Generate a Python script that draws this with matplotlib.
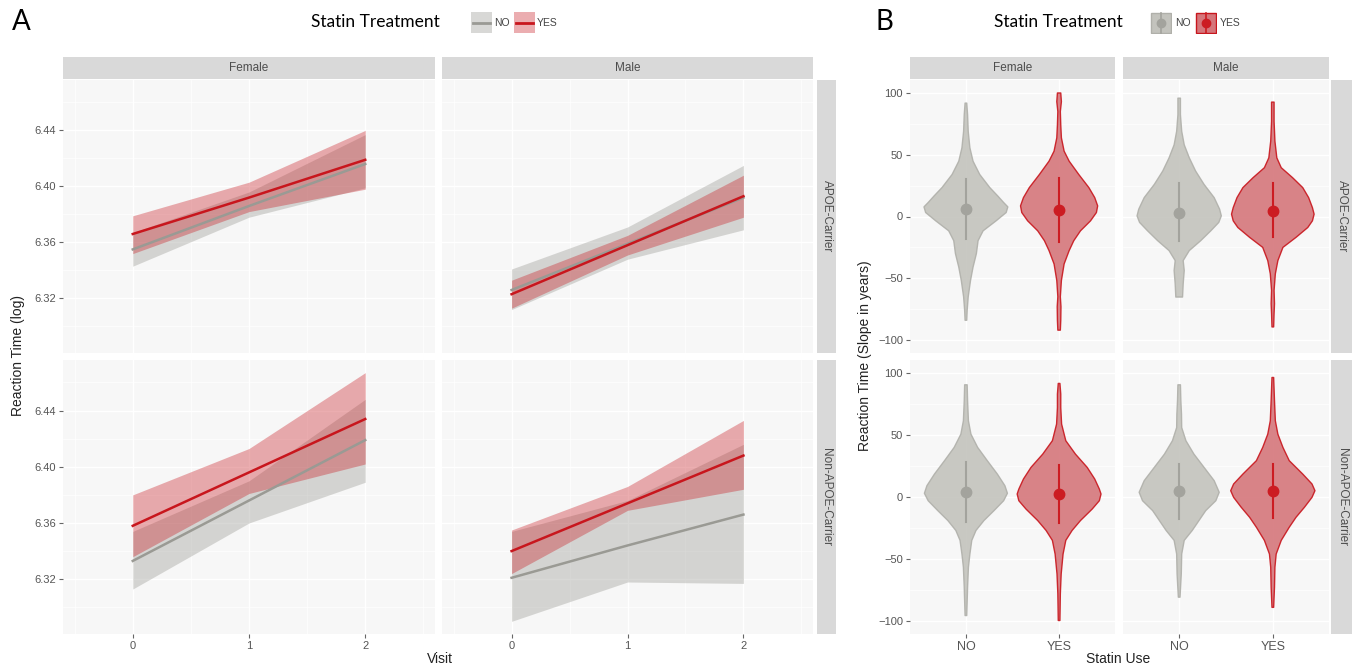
import matplotlib.pyplot as plt
import numpy as np

W, H = 1354, 668

visits = [0, 1, 2]
sexes = ["Female", "Male"]
carriers = ["APOE-Carrier", "Non-APOE-Carrier"]
groups = ["NO", "YES"]

# panel A, order: (APOE, Female), (APOE, Male), (Non-APOE, Female), (Non-APOE, Male)
no_fit = [[6.355, 6.386, 6.416], [6.326, 6.359, 6.392], [6.333, 6.376, 6.419], [6.321, 6.344, 6.366]]
no_lo = [[6.343, 6.378, 6.399], [6.312, 6.348, 6.369], [6.313, 6.360, 6.389], [6.290, 6.318, 6.317]]
no_hi = [[6.367, 6.396, 6.437], [6.341, 6.371, 6.415], [6.354, 6.390, 6.448], [6.354, 6.376, 6.416]]
yes_fit = [[6.366, 6.392, 6.419], [6.323, 6.358, 6.393], [6.358, 6.396, 6.434], [6.340, 6.374, 6.408]]
yes_lo = [[6.352, 6.382, 6.398], [6.313, 6.351, 6.378], [6.336, 6.381, 6.402], [6.324, 6.369, 6.384]]
yes_hi = [[6.379, 6.403, 6.440], [6.333, 6.365, 6.408], [6.380, 6.413, 6.467], [6.355, 6.386, 6.433]]

# panel B violins (slope value, relative half width), order:
# (APOE, Female, NO), (APOE, Female, YES), (APOE, Male, NO), (APOE, Male, YES), then the same for Non-APOE
violin_y = [
    [91.8, 82.4, 69, 55.6, 44.8, 34, 23.4, 16.6, 11.3, 7.8, 3.2, -3.5, -11.6, -19.6, -30, -41, -51.8, -65, -76, -84],
    [100, 93, 85, 74, 63.7, 52.9, 44.8, 34, 23.4, 15.3, 8.6, 3.2, -3.5, -11.6, -19.6, -27.6, -38.4, -51.8, -65, -73, -84, -92],
    [95.8, 82.4, 69, 58, 47.5, 36.8, 26, 15.3, 5.9, 0.5, -4.8, -11.6, -19.6, -27.6, -35.7, -43.7, -54.5, -65.2],
    [92.6, 77, 61, 47.5, 39.5, 31.4, 23.4, 15.3, 7.2, 1.9, -3.5, -8.9, -16.9, -25, -35.7, -46.4, -59.8, -70.6, -78.6, -89.4],
    [90.5, 77.6, 61.5, 50.7, 40, 29.3, 18.5, 9.1, 3, -3, -11, -19, -27, -35, -46, -56.7, -72.8, -95.6],
    [91.6, 83, 72, 58.8, 45.4, 34.6, 23.9, 14.5, 6.4, 2.4, -3, -9.7, -19, -27, -35, -46, -62, -78, -99.6],
    [90.5, 77.6, 66.9, 56, 45.4, 34.6, 23.9, 13.2, 3.8, -3, -11, -19, -27, -35, -46, -62, -80.8],
    [96.4, 77.6, 61.5, 50.7, 40, 29.3, 18.5, 10.5, 5.1, -0.3, -8.3, -16.4, -24.4, -35, -46, -56.7, -72.8, -89],
]
violin_w = [
    [0.02, 0.04, 0.055, 0.095, 0.17, 0.33, 0.57, 0.76, 0.9, 1.0, 0.96, 0.72, 0.41, 0.29, 0.25, 0.17, 0.11, 0.055, 0.03, 0.02],
    [0.04, 0.055, 0.03, 0.04, 0.055, 0.12, 0.24, 0.47, 0.71, 0.85, 0.92, 0.89, 0.75, 0.51, 0.35, 0.24, 0.12, 0.055, 0.03, 0.045, 0.04, 0.03],
    [0.03, 0.03, 0.06, 0.12, 0.24, 0.39, 0.59, 0.83, 0.96, 1.0, 0.94, 0.75, 0.51, 0.24, 0.095, 0.12, 0.095, 0.08],
    [0.03, 0.03, 0.05, 0.095, 0.2, 0.47, 0.71, 0.85, 0.94, 0.98, 0.94, 0.83, 0.55, 0.24, 0.12, 0.06, 0.03, 0.04, 0.03, 0.02],
    [0.03, 0.04, 0.06, 0.12, 0.28, 0.51, 0.75, 0.93, 0.99, 0.9, 0.67, 0.43, 0.24, 0.14, 0.095, 0.06, 0.04, 0.02],
    [0.02, 0.04, 0.04, 0.06, 0.16, 0.39, 0.67, 0.85, 0.96, 1.0, 0.96, 0.79, 0.51, 0.31, 0.16, 0.095, 0.05, 0.03, 0.02],
    [0.03, 0.04, 0.055, 0.06, 0.16, 0.35, 0.59, 0.83, 0.95, 0.87, 0.63, 0.47, 0.31, 0.12, 0.06, 0.05, 0.02],
    [0.02, 0.04, 0.06, 0.12, 0.24, 0.39, 0.71, 0.93, 1.0, 0.93, 0.75, 0.55, 0.39, 0.2, 0.08, 0.05, 0.04, 0.02],
]
point_mean = [5.9, 5.4, 3.2, 4.6, 3.8, 2.4, 4.6, 5.1]
point_lo = [-18.3, -20.9, -20, -16.9, -20.4, -21.2, -17.7, -16.9]
point_hi = [30.6, 30.9, 27.1, 27.1, 27.9, 26, 26.6, 26.6]

GREY_LINE = "#9a9a94"
RED_LINE = "#c8161d"
GREY_VIOLIN = "#c3c3bd"
RED_VIOLIN = "#d5767b"
PANEL_BG = "#f7f7f7"
STRIP_BG = "#d9d9d9"
TXT = "#555555"

plt.rcParams["font.family"] = ["Liberation Sans", "DejaVu Sans"]

fig = plt.figure(figsize=(W / 100, H / 100), dpi=100)


def px_axes(x0, y0, x1, y1):
    return fig.add_axes([x0 / W, 1 - y1 / H, (x1 - x0) / W, (y1 - y0) / H])


def strip(x0, y0, x1, y1, label, rot=0):
    ax = px_axes(x0, y0, x1, y1)
    ax.set_facecolor(STRIP_BG)
    ax.set_xticks([])
    ax.set_yticks([])
    for s in ax.spines.values():
        s.set_visible(False)
    ax.text(0.5, 0.5, label, rotation=rot, ha="center", va="center",
            fontsize=8.5, color="#4d4d4d", transform=ax.transAxes)


def style_panel(ax, left, bottom):
    ax.set_facecolor(PANEL_BG)
    for s in ax.spines.values():
        s.set_visible(False)
    ax.grid(True, which="major", color="white", lw=1.0)
    ax.grid(True, which="minor", color="white", lw=0.5)
    ax.set_axisbelow(True)
    ax.tick_params(which="major", length=3, color="#666666", labelcolor=TXT, labelsize=8, pad=2)
    ax.tick_params(which="minor", length=0)
    if not left:
        ax.tick_params(axis="y", which="both", length=0, labelleft=False)
    if not bottom:
        ax.tick_params(axis="x", which="both", length=0, labelbottom=False)


rows = [(80, 353), (360, 634)]

# ---------------- panel A ----------------
cols_a = [(63, 435), (442, 813)]
for j, sex in enumerate(sexes):
    strip(cols_a[j][0], 57, cols_a[j][1], 79, sex)
for i, car in enumerate(carriers):
    strip(817, rows[i][0], 836, rows[i][1], car, rot=-90)
    for j in range(2):
        k = i * 2 + j
        ax = px_axes(cols_a[j][0], rows[i][0], cols_a[j][1], rows[i][1])
        ax.fill_between(visits, no_lo[k], no_hi[k], color=GREY_LINE, alpha=0.38, lw=0)
        ax.plot(visits, no_fit[k], color=GREY_LINE, lw=1.8)
        ax.fill_between(visits, yes_lo[k], yes_hi[k], color=RED_LINE, alpha=0.35, lw=0)
        ax.plot(visits, yes_fit[k], color=RED_LINE, lw=1.8)
        ax.set_xlim(-0.6, 2.6)
        ax.set_ylim(6.281, 6.476)
        ax.set_xticks([0, 1, 2])
        ax.set_xticks([-0.5, 0.5, 1.5, 2.5], minor=True)
        ax.set_yticks([6.32, 6.36, 6.40, 6.44])
        ax.set_yticklabels(["6.32", "6.36", "6.40", "6.44"])
        ax.set_yticks([6.30, 6.34, 6.38, 6.42, 6.46], minor=True)
        style_panel(ax, j == 0, i == 1)

fig.text(18 / W, 1 - 356 / H, "Reaction Time (log)", rotation=90, ha="center", va="center",
         fontsize=10, color="#222222")
fig.text(440 / W, 1 - 659 / H, "Visit", ha="center", va="center", fontsize=10, color="#222222")

# ---------------- panel B ----------------
cols_b = [(910, 1115), (1123, 1329)]
for j, sex in enumerate(sexes):
    strip(cols_b[j][0], 57, cols_b[j][1], 79, sex)
for i, car in enumerate(carriers):
    strip(1331, rows[i][0], 1352, rows[i][1], car, rot=-90)
    for j in range(2):
        ax = px_axes(cols_b[j][0], rows[i][0], cols_b[j][1], rows[i][1])
        for g, grp in enumerate(groups):
            k = i * 4 + j * 2 + g
            xc = g + 1
            yv = np.array(violin_y[k])
            hw = np.array(violin_w[k]) * 0.45
            fill = GREY_VIOLIN if g == 0 else RED_VIOLIN
            edge = "#b0b0aa" if g == 0 else RED_LINE
            outline_x = np.concatenate([xc - hw, (xc + hw)[::-1]])
            outline_y = np.concatenate([yv, yv[::-1]])
            ax.fill(outline_x, outline_y, facecolor=fill, edgecolor=edge, lw=1.0,
                    alpha=0.9, joinstyle="round")
            pc = "#a3a39d" if g == 0 else "#cc1c22"
            ax.plot([xc, xc], [point_lo[k], point_hi[k]], color=pc, lw=1.5)
            ax.plot([xc], [point_mean[k]], "o", color=pc, ms=7.5)
        ax.set_xlim(0.4, 2.6)
        ax.set_ylim(-110.5, 110.5)
        ax.set_xticks([1, 2])
        ax.set_xticklabels(groups)
        ax.set_yticks([-100, -50, 0, 50, 100])
        ax.set_yticks([-75, -25, 25, 75], minor=True)
        style_panel(ax, j == 0, i == 1)
        ax.tick_params(axis="x", labelsize=9)

fig.text(865 / W, 1 - 356 / H, "Reaction Time (Slope in years)", rotation=90, ha="center", va="center",
         fontsize=10, color="#222222")
fig.text(1118 / W, 1 - 659 / H, "Statin Use", ha="center", va="center", fontsize=10, color="#222222")

# ---------------- headers and legends ----------------
head = ["Lato", "DejaVu Sans"]
fig.text(12 / W, 1 - 22 / H, "A", fontsize=20, va="center", ha="left", family=head)
fig.text(876 / W, 1 - 22 / H, "B", fontsize=20, va="center", ha="left", family=head)
fig.text(375 / W, 1 - 22 / H, "Statin Treatment", fontsize=12.5, va="center", ha="center", family=head)
fig.text(1058 / W, 1 - 22 / H, "Statin Treatment", fontsize=12.5, va="center", ha="center", family=head)

# legend keys A
for x0, grp, col in [(471, "NO", GREY_LINE), (514, "YES", RED_LINE)]:
    kax = px_axes(x0, 12, x0 + 21, 33)
    kax.set_xlim(0, 1)
    kax.set_ylim(0, 1)
    kax.axis("off")
    kax.add_patch(plt.Rectangle((0, 0), 1, 1, color=col, alpha=0.38 if grp == "NO" else 0.35, lw=0))
    kax.plot([0.1, 0.9], [0.5, 0.5], color=col, lw=2)
    fig.text((x0 + 23) / W, 1 - 23 / H, grp, fontsize=7.5, color="#444444", va="center", ha="left")

# legend keys B
for x0, grp, fill, edge, pc in [(1150, "NO", GREY_VIOLIN, "#b0b0aa", "#a3a39d"),
                                (1195, "YES", RED_VIOLIN, RED_LINE, "#cc1c22")]:
    kax = px_axes(x0, 12, x0 + 22, 34)
    kax.set_xlim(0, 1)
    kax.set_ylim(0, 1)
    kax.axis("off")
    kax.add_patch(plt.Rectangle((0.03, 0.03), 0.94, 0.94, facecolor=fill, edgecolor=edge, lw=1))
    kax.plot([0.5, 0.5], [0.05, 0.95], color=pc, lw=1.2)
    kax.plot([0.5], [0.5], "o", color=pc, ms=6)
    fig.text((x0 + 25) / W, 1 - 23 / H, grp, fontsize=7.5, color="#444444", va="center", ha="left")

fig.savefig("out.png", dpi=100, facecolor="white")
